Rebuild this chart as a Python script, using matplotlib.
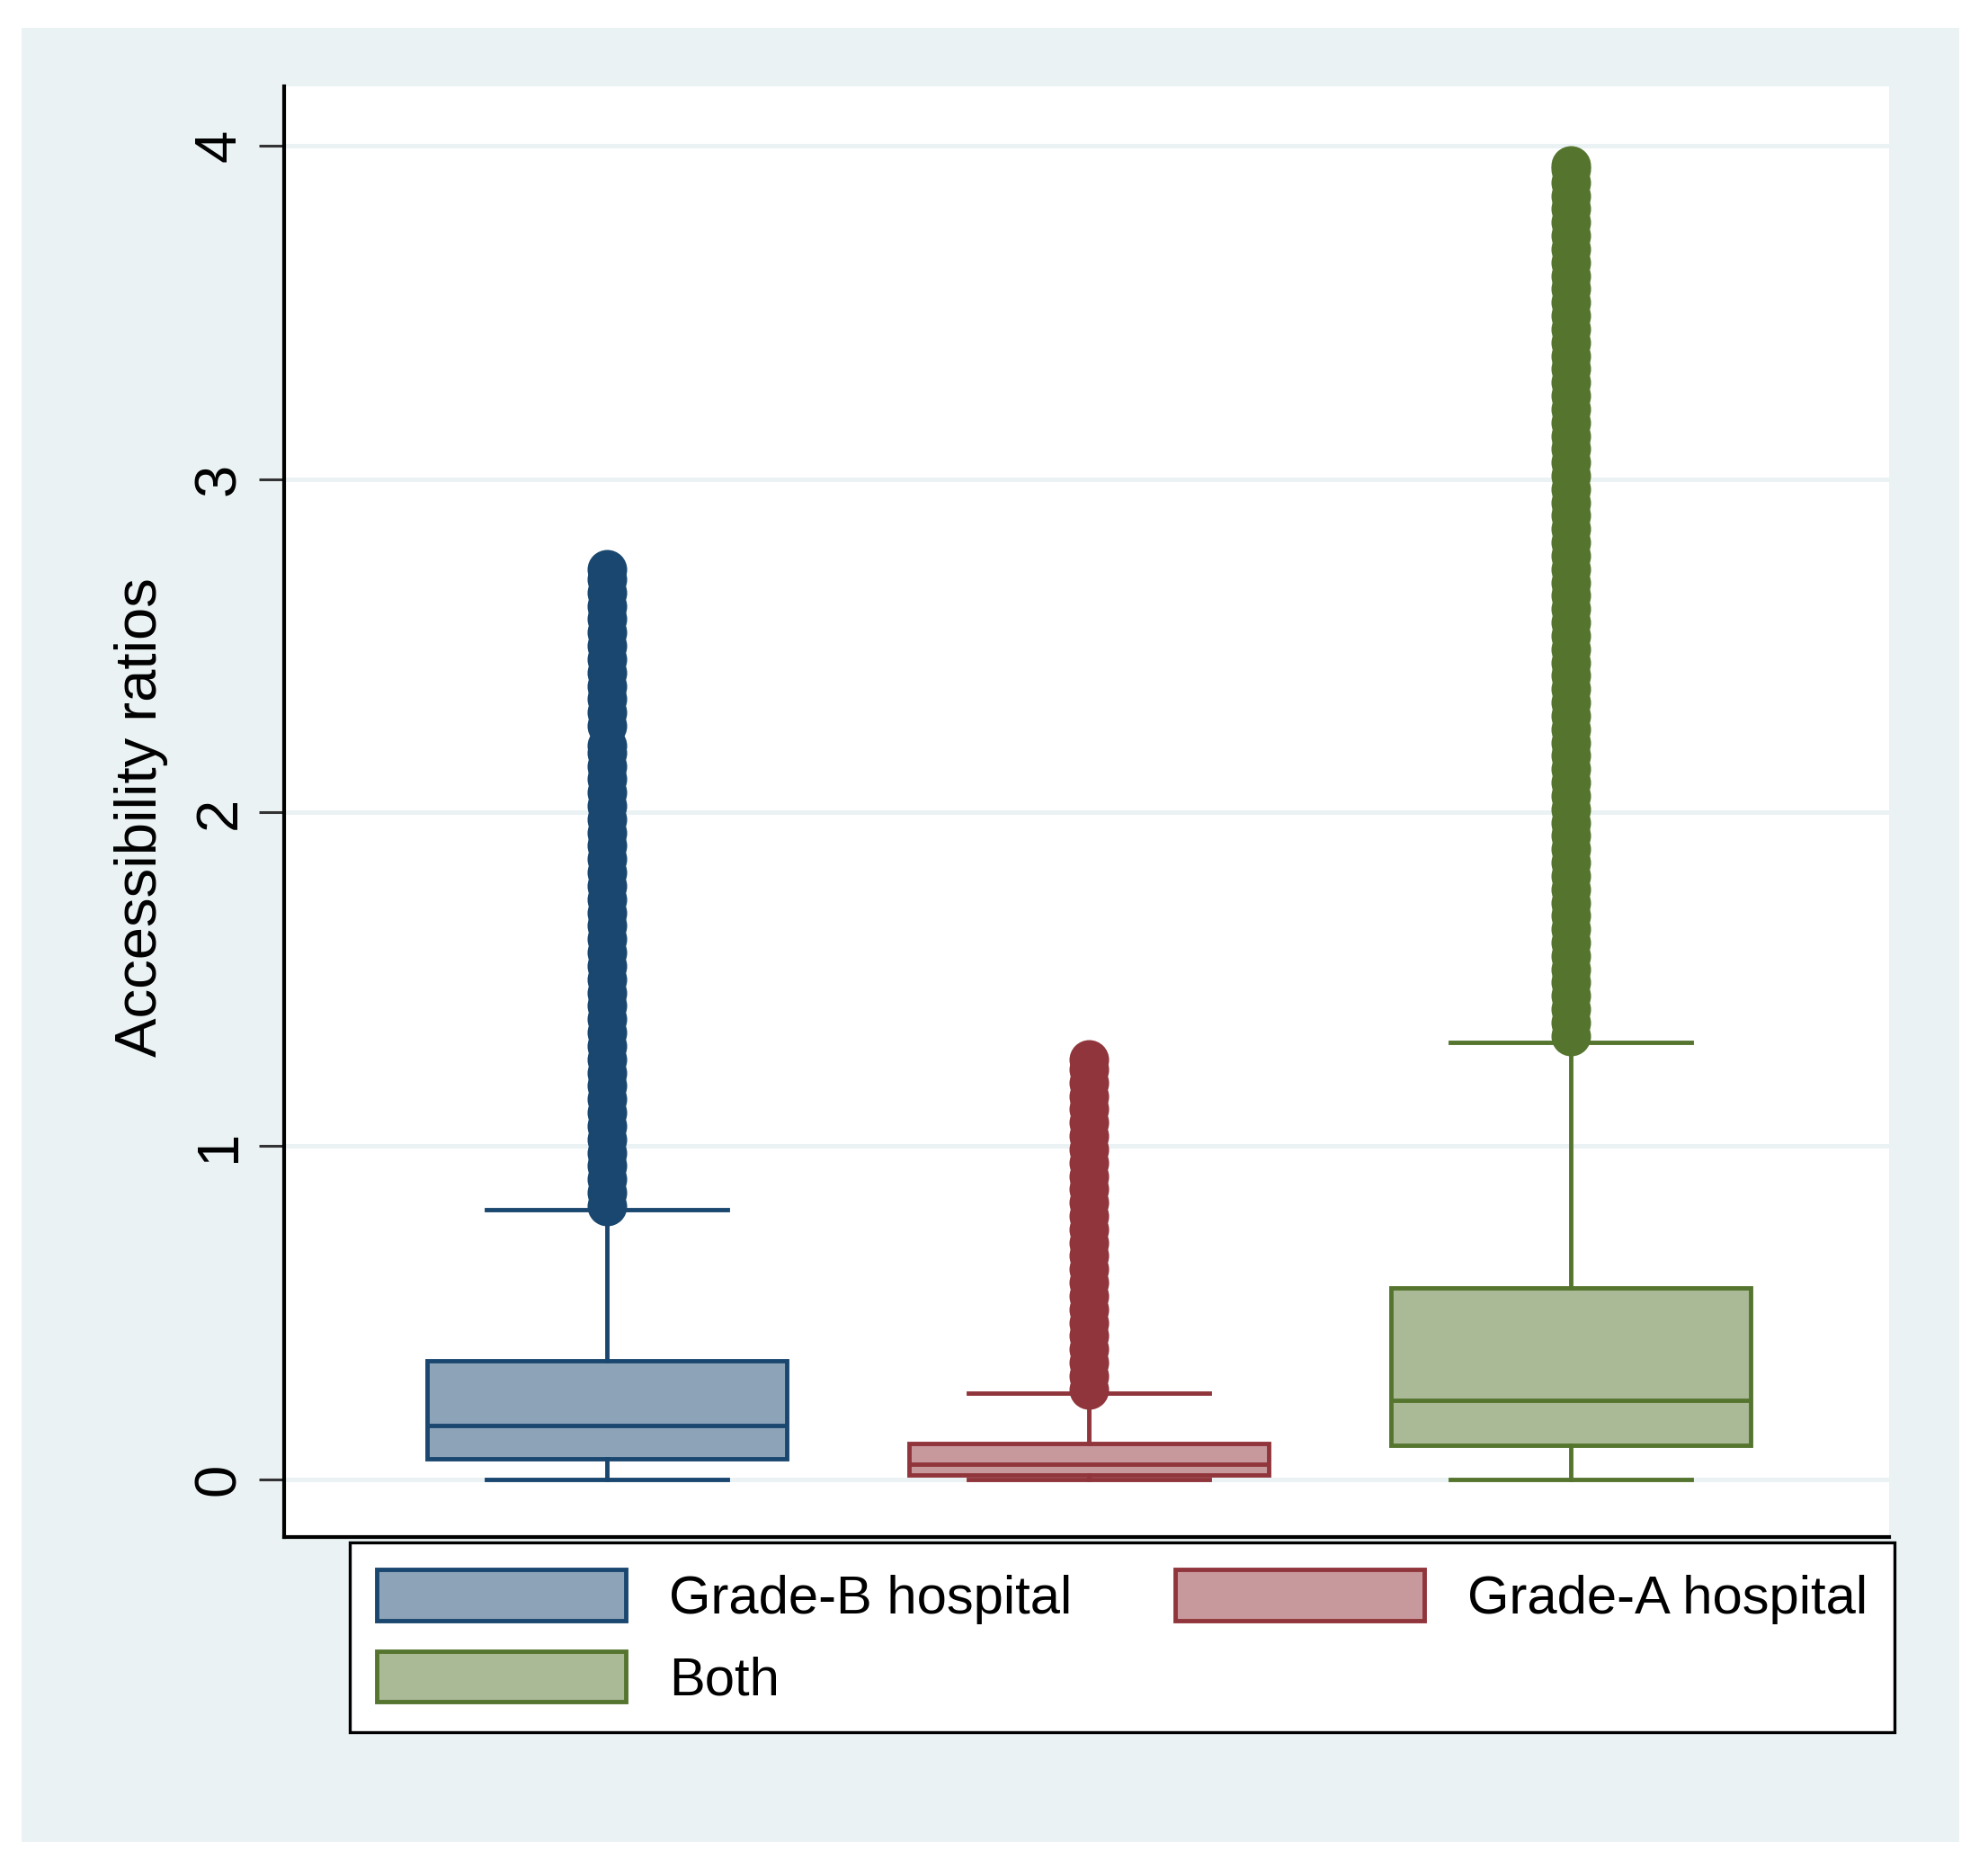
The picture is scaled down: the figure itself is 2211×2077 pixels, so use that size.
import matplotlib
matplotlib.use("Agg")
import matplotlib.pyplot as plt
from matplotlib.patches import Patch, Rectangle

plt.rcParams['font.family'] = ['Liberation Sans', 'DejaVu Sans']

# box statistics
groups = ["Grade-B hospital", "Grade-A hospital", "Both"]
whislo = [0.0, 0.0, 0.0]
q1 = [0.062, 0.013, 0.102]
med = [0.162, 0.046, 0.237]
q3 = [0.356, 0.108, 0.575]
whishi = [0.81, 0.259, 1.311]

# outliers (dense columns of dots)
gradeB_out = [0.82, 0.86, 0.90, 0.94, 0.98, 1.02, 1.06, 1.10, 1.14, 1.18, 1.22, 1.26,
              1.30, 1.34, 1.38, 1.42, 1.46, 1.50, 1.54, 1.58, 1.62, 1.66, 1.70, 1.74,
              1.78, 1.82, 1.86, 1.90, 1.94, 1.98, 2.02, 2.06, 2.10, 2.14, 2.18, 2.20,
              2.26, 2.30, 2.34, 2.38, 2.42, 2.46, 2.50, 2.54, 2.58, 2.62, 2.66, 2.70, 2.73]
gradeA_out = [0.27, 0.31, 0.35, 0.39, 0.43, 0.47, 0.51, 0.55, 0.59, 0.63, 0.67, 0.71,
              0.75, 0.79, 0.83, 0.87, 0.91, 0.95, 0.99, 1.03, 1.07, 1.11, 1.15, 1.19,
              1.23, 1.26]
both_out = [1.33, 1.37, 1.41, 1.45, 1.49, 1.53, 1.57, 1.61, 1.65, 1.69, 1.73, 1.77,
            1.81, 1.85, 1.89, 1.93, 1.97, 2.01, 2.05, 2.09, 2.13, 2.17, 2.21, 2.25,
            2.29, 2.33, 2.37, 2.41, 2.45, 2.49, 2.53, 2.57, 2.61, 2.65, 2.69, 2.73,
            2.77, 2.81, 2.85, 2.89, 2.93, 2.97, 3.01, 3.05, 3.09, 3.13, 3.17, 3.21,
            3.25, 3.29, 3.33, 3.37, 3.41, 3.45, 3.49, 3.53, 3.57, 3.61, 3.65, 3.69,
            3.73, 3.77, 3.81, 3.85, 3.89, 3.93, 3.94]
outliers = [gradeB_out, gradeA_out, both_out]

yticks = [0, 1, 2, 3, 4]

line_colors = ["#1A476F", "#90353B", "#55752F"]
fill_colors = ["#8DA3B8", "#C8999C", "#AABA97"]

W, H = 2211, 2077
fig = plt.figure(figsize=(W / 100, H / 100), dpi=100)
fig.patch.set_facecolor("white")

# light graph region
bg = Rectangle((24 / W, 1 - 2048 / H), (2179 - 24) / W, (2048 - 31) / H,
               transform=fig.transFigure, facecolor="#EAF2F3", edgecolor="none", zorder=-1)
fig.patches.append(bg)

ax = fig.add_axes([316 / W, 1 - 1709 / H, (2101 - 316) / W, (1709 - 96) / H])
ax.set_facecolor("white")

stats = []
for i in range(3):
    stats.append(dict(whislo=whislo[i], q1=q1[i], med=med[i], q3=q3[i],
                      whishi=whishi[i], fliers=outliers[i]))

lw = 3.5
res = ax.bxp(stats, positions=[1, 2, 3], widths=0.746, capwidths=0.5,
             patch_artist=True, showfliers=True)

for i in range(3):
    c = line_colors[i]
    res["boxes"][i].set_facecolor(fill_colors[i])
    res["boxes"][i].set_edgecolor(c)
    res["boxes"][i].set_linewidth(lw)
    res["medians"][i].set_color(c)
    res["medians"][i].set_linewidth(lw)
    for ln in res["whiskers"][2 * i:2 * i + 2] + res["caps"][2 * i:2 * i + 2]:
        ln.set_color(c)
        ln.set_linewidth(lw)
    fl = res["fliers"][i]
    fl.set_marker("o")
    fl.set_markersize(31.7)
    fl.set_markerfacecolor(c)
    fl.set_markeredgecolor(c)
    fl.set_markeredgewidth(0)
    fl.set_zorder(3)

ax.set_xlim(0.33, 3.66)
ax.set_ylim(-0.173, 4.178)
ax.set_xticks([])
ax.set_yticks(yticks)
ax.set_yticklabels([str(t) for t in yticks])
ax.yaxis.grid(True, color="#EAF2F3", linewidth=3.6)
ax.set_axisbelow(True)

for s in ["top", "right"]:
    ax.spines[s].set_visible(False)
for s in ["left", "bottom"]:
    ax.spines[s].set_linewidth(3)
    ax.spines[s].set_color("black")

ax.tick_params(axis="y", direction="out", length=20, width=2.2, pad=10,
               labelsize=47, labelrotation=90, color="#333333")
for lab in ax.get_yticklabels():
    lab.set_va("center")

ax.set_ylabel("Accessibility ratios", fontsize=47)
ax.yaxis.set_label_coords(-0.072, 0.496)

handles = [Patch(facecolor=fill_colors[0], edgecolor=line_colors[0], lw=lw, label=groups[0]),
           Patch(facecolor=fill_colors[2], edgecolor=line_colors[2], lw=lw, label=groups[2]),
           Patch(facecolor=fill_colors[1], edgecolor=line_colors[1], lw=lw, label=groups[1])]
leg = fig.legend(handles=handles, loc="upper left", bbox_to_anchor=(389 / W, 1 - 1715 / H),
                 ncol=2, fontsize=43, frameon=True, fancybox=False, edgecolor="black",
                 framealpha=1, handlelength=4.64, handleheight=1.09, handletextpad=0.80,
                 borderpad=0.5, columnspacing=1.93, labelspacing=0.5, borderaxespad=0)
leg.get_frame().set_linewidth(2.4)

fig.savefig("out.png", dpi=100)
